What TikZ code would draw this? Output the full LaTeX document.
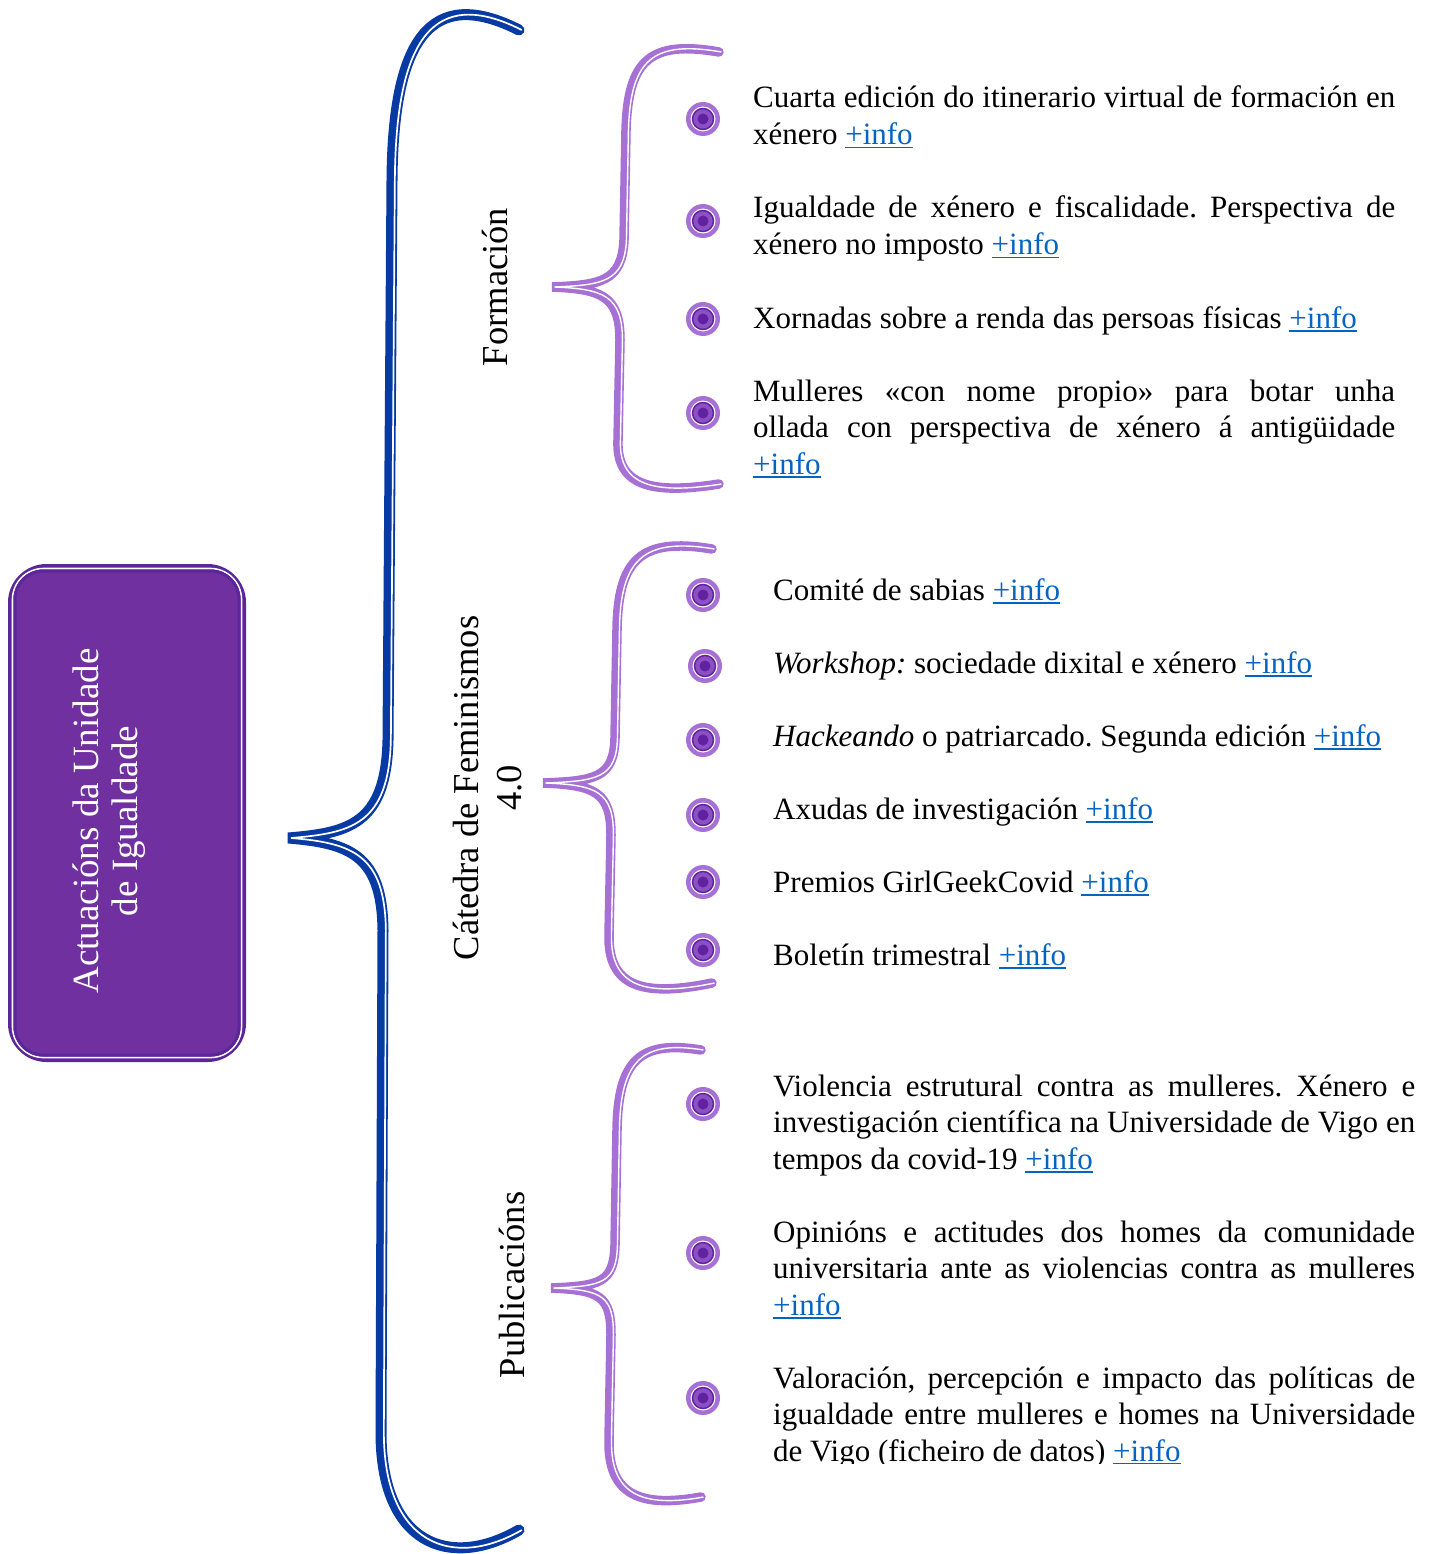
\documentclass[tikz,border=0pt]{standalone}
\usepackage{fontspec}
\setmainfont{Liberation Serif}
\usetikzlibrary{calc}
\definecolor{bluebr}{RGB}{8,58,163}
\definecolor{lp}{RGB}{167,112,212}
\definecolor{rootfill}{RGB}{112,48,160}
\definecolor{rootedge}{RGB}{92,38,155}
\definecolor{midp}{RGB}{140,80,196}
\definecolor{darkp}{RGB}{96,34,160}
\definecolor{linkblue}{RGB}{5,99,193}
\frenchspacing
\newcommand\infolink{\leavevmode\setbox0\hbox{+info}\textcolor{linkblue}{\rlap{\rule[-4pt]{\wd0}{1.6pt}}\box0}}
\tikzset{
  bbrace/.style={draw=bluebr, line width=11pt, line cap=round},
  pbrace/.style={draw=lp, line width=9.5pt, line cap=round},
  bgap/.style={draw=white, line width=1.7pt},
  pgap/.style={draw=white, line width=1.4pt},
  bul/.style={circle, fill=lp, minimum size=34pt, inner sep=0pt,
    path picture={
      \fill[white] (path picture bounding box.center) circle (12.5pt);
      \filldraw[fill=midp, draw=darkp, line width=1.5pt] (path picture bounding box.center) circle (10.5pt);
      \fill[darkp] (path picture bounding box.center) circle (5.5pt);}},
  txtA/.style={anchor=base west, inner sep=0pt, text width=642pt, align=justify,
    font=\fontsize{31}{36.5}\selectfont},
  txtB/.style={txtA},
  lab/.style={rotate=90, inner sep=0pt, font=\fontsize{36.5}{43}\selectfont},
  rottxt/.style={rotate=90, inner sep=0pt, align=center, text=white, font=\fontsize{37}{39}\selectfont}
}
\def\pathBlue{(519,30) .. controls (430,-15) and (393,40) .. (392,180) -- (388,740) .. controls (386,825) and (348,833) .. (288,838) .. controls (350,843) and (382,855) .. (383,930) -- (381,1430) .. controls (380,1545) and (450,1570) .. (519,1530)}
\def\pathF{(719,52) .. controls (650,40) and (628,60) .. (626,130) -- (624,240) .. controls (622,282) and (600,285) .. (552,287) .. controls (600,289) and (620,295) .. (620,340) -- (618,440) .. controls (616,485) and (650,495) .. (719,484)}
\def\pathC{(712,549) .. controls (640,537) and (618,560) .. (617,630) -- (615,738) .. controls (614,778) and (595,781) .. (543,783) .. controls (595,785) and (611,792) .. (611,835) -- (609,935) .. controls (608,985) and (640,998) .. (712,983)}
\def\pathP{(701,1050) .. controls (640,1040) and (618,1060) .. (617,1130) -- (615,1245) .. controls (614,1283) and (600,1286) .. (551,1288) .. controls (600,1290) and (611,1296) .. (611,1335) -- (609,1440) .. controls (608,1495) and (640,1508) .. (701,1497)}
\begin{document}
\begin{tikzpicture}[x=1pt,y=-1pt]
\useasboundingbox (0,0) rectangle (1432,1554);

% root box
\node[draw=rootedge, line width=5pt, fill=rootfill, rounded corners=36pt,
      minimum width=233pt, minimum height=493pt, inner sep=0pt] (root) at (127,813) {};
\draw[white, line width=1.6pt, rounded corners=31pt]
  ([shift={(4.5pt,4.5pt)}]root.south west) rectangle ([shift={(-4.5pt,-4.5pt)}]root.north east);
\draw[rootedge, line width=3pt, rounded corners=28pt]
  ([shift={(7pt,7pt)}]root.south west) rectangle ([shift={(-7pt,-7pt)}]root.north east);
\node[rottxt] (roottext) at (109,821) {Actuacións da Unidade\\de Igualdade};

% braces
\draw[bbrace] \pathBlue;
\begin{scope}[shift={(2.85,0)}]
  \draw[bgap] \pathBlue;
\end{scope}
\draw[pbrace] \pathF;
\draw[pbrace] \pathC;
\draw[pbrace] \pathP;
\begin{scope}[shift={(2.45,0)}]
  \draw[pgap] \pathF;
  \draw[pgap] \pathC;
  \draw[pgap] \pathP;
\end{scope}

% labels
\node[lab] (labF) at (495,287) {Formación};
\node[lab, align=center] (labC) at (488,788) {Cátedra de Feminismos\\4.0};
\node[lab] (labP) at (512,1285) {Publicacións};

% bullets
\node[bul] (b1) at (703,119) {};
\node[bul] (b2) at (703,221) {};
\node[bul] (b3) at (703,319) {};
\node[bul] (b4) at (703,413) {};
\node[bul] (b5) at (703,595) {};
\node[bul] (b6) at (705,666) {};
\node[bul] (b7) at (703,740) {};
\node[bul] (b8) at (703,815) {};
\node[bul] (b9) at (703,882) {};
\node[bul] (b10) at (703,950) {};
\node[bul] (b11) at (703,1104) {};
\node[bul] (b12) at (703,1253) {};
\node[bul] (b13) at (703,1398) {};

% Formación texts
\node[txtA] (t1) at (753,108) {Cuarta edición do itinerario virtual de formación en\linebreak xénero \infolink};
\node[txtA] (t2) at (753,218) {Igualdade de xénero e fiscalidade. Perspectiva de\linebreak xénero no imposto \infolink};
\node[txtA] (t3) at (753,328) {Xornadas sobre a renda das persoas físicas \infolink};
\node[txtA] (t4) at (753,401) {Mulleres «con nome propio» para botar unha\linebreak ollada con perspectiva de xénero á antigüidade\linebreak \infolink};

% Cátedra texts
\node[txtB] (t5) at (773,600) {Comité de sabias \infolink};
\node[txtB] (t6) at (773,673) {\textit{Workshop:} sociedade dixital e xénero \infolink};
\node[txtB] (t7) at (773,746) {\textit{Hackeando} o patriarcado. Segunda edición \infolink};
\node[txtB] (t8) at (773,819) {Axudas de investigación \infolink};
\node[txtB] (t9) at (773,892) {Premios GirlGeekCovid \infolink};
\node[txtB] (t10) at (773,965) {Boletín trimestral \infolink};

% Publicacións texts
\node[txtB] (t11) at (773,1096) {Violencia estrutural contra as mulleres. Xénero e\linebreak investigación científica na Universidade de Vigo en\linebreak tempos da covid-19 \infolink};
\node[txtB] (t12) at (773,1242) {Opinións e actitudes dos homes da comunidade\linebreak universitaria ante as violencias contra as mulleres\linebreak \infolink};
\begin{scope}
\clip (760,1355) rectangle (1432,1463);
\node[txtB] (t13) at (773,1388) {Valoración, percepción e impacto das políticas de\linebreak igualdade entre mulleres e homes na Universidade\linebreak de Vigo (ficheiro de datos) \infolink};
\end{scope}
\end{tikzpicture}
\end{document}
